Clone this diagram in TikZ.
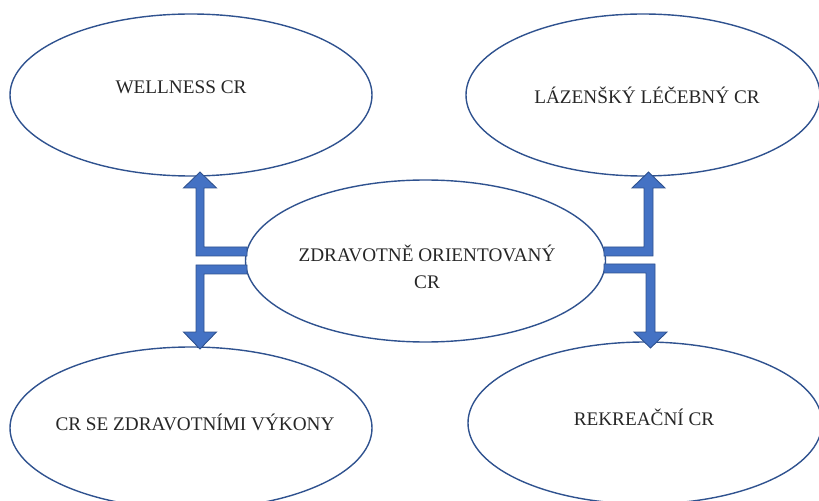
\documentclass[tikz,border=0pt]{standalone}
\usepackage{fontspec}
\setmainfont{Liberation Serif}
\usetikzlibrary{shapes.geometric}
\definecolor{ringblue}{HTML}{2F528F}
\definecolor{arrowfill}{HTML}{4472C4}
\definecolor{arrowline}{HTML}{2F528F}
\tikzset{
  ring/.style={ellipse, draw=ringblue, line width=1.4bp, inner sep=0pt},
  lbl/.style={anchor=base, inner sep=0pt, font=\fontsize{19.3}{26}\selectfont, text=black!85},
  blockarrow/.style={fill=arrowfill, draw=arrowline, line width=0.9bp, line join=miter}
}
\begin{document}
\begin{tikzpicture}[x=1bp,y=-1bp]
\useasboundingbox (0,0) rectangle (819,501);
% ellipses
\node[ring, minimum width=362bp, minimum height=162bp] (tl) at (191,95) {};
\node[ring, minimum width=354bp, minimum height=162bp] (tr) at (643,95) {};
\node[ring, minimum width=360bp, minimum height=162bp] (c) at (425.5,261) {};
\node[ring, minimum width=362bp, minimum height=162bp] (bl) at (191,428) {};
\node[ring, minimum width=354bp, minimum height=162bp] (br) at (645,423) {};
% labels
\node[lbl] (tlt) at (181,94) {WELLNESS CR};
\node[lbl] (trt) at (647,104) {LÁZENŠKÝ LÉČEBNÝ CR};
\node[lbl] (ct1) at (427,262) {ZDRAVOTNĚ ORIENTOVANÝ};
\node[lbl] (ct2) at (427,289) {CR};
\node[lbl] (blt) at (195,430) {CR SE ZDRAVOTNÍMI VÝKONY};
\node[lbl] (brt) at (644,425) {REKREAČNÍ CR};
% connector start points on the centre ellipse
\coordinate (aTL) at (247,251.5);
\coordinate (aBL) at (247,269.5);
\coordinate (aTR) at (604,251.5);
\coordinate (aBR) at (604,268.5);
% block arrows
\draw[blockarrow] (aTL) ++(0,-4.5) -- ++(-43,0) -- ++(0,-59) -- ++(12.5,0)
  -- ++(-16.5,-16) -- ++(-16.5,16) -- ++(12.5,0) -- ++(0,68) -- ++(51,0) -- cycle;
\draw[blockarrow] (aBL) ++(0,4.5) -- ++(-43,0) -- ++(0,58) -- ++(12.5,0)
  -- ++(-16.5,17) -- ++(-16.5,-17) -- ++(12.5,0) -- ++(0,-67) -- ++(51,0) -- cycle;
\draw[blockarrow] (aTR) ++(0,-4.5) -- ++(40,0) -- ++(0,-59) -- ++(-12,0)
  -- ++(16.5,-16) -- ++(16.5,16) -- ++(-12,0) -- ++(0,68) -- ++(-49,0) -- cycle;
\draw[blockarrow] (aBR) ++(0,4.5) -- ++(42,0) -- ++(0,59) -- ++(-12,0)
  -- ++(16.5,16) -- ++(16.5,-16) -- ++(-12,0) -- ++(0,-68) -- ++(-51,0) -- cycle;
\end{tikzpicture}
\end{document}
